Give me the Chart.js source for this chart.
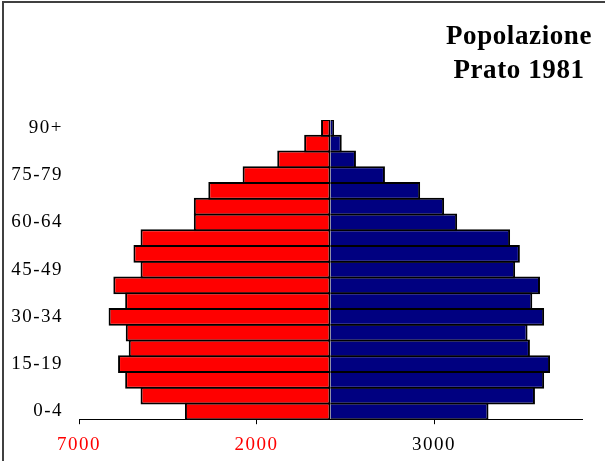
<!DOCTYPE html>
<html>
<head>
<meta charset="utf-8">
<script src="https://cdn.jsdelivr.net/npm/chart.js@4"></script>
<style>
  html, body { margin: 0; padding: 0; background: #fff; }
  #wrap { position: relative; width: 605px; height: 461px; overflow: hidden; }
  #frame { position: absolute; left: 2px; top: 1px; width: 700px; height: 600px;
           border-left: 2px solid #404040; border-top: 2px solid #404040; pointer-events: none; }
  #titolo { position: absolute; left: 439px; top: 18px; width: 160px; text-align: center;
            font: bold 27px "Liberation Serif", serif; line-height: 34px; letter-spacing: 0.6px; color: #000; }
</style>
</head>
<body>
<div id="wrap">
  <canvas id="piramide"></canvas>
  <div id="frame"></div>
  <div id="titolo">Popolazione<br>Prato 1981</div>
</div>
<script>
// classi di età, dal basso verso l'alto
const classiEta = ['0-4', '5-9', '10-14', '15-19', '20-24', '25-29', '30-34', '35-39', '40-44',
                   '45-49', '50-54', '55-59', '60-64', '65-69', '70-74', '75-79', '80-84', '85-89', '90+'];
// valori (lato sinistro, rosso)
const maschi = [2460, 3210, 3470, 3590, 3410, 3460, 3750, 3470, 3670,
                3210, 3330, 3210, 2310, 2310, 2065, 1485, 900, 445, 160];
// lato destro, blu
const femmine = [2670, 3455, 3610, 3710, 3370, 3330, 3610, 3410, 3540,
                 3120, 3200, 3035, 2140, 1920, 1515, 920, 430, 190, 60];
// asse orizzontale: posizioni e etichette come nell'originale
const tickValori = [-4250, -1250, 1750];
const tickEtichette = ['7000', '2000', '3000'];
const tickColori = ['#ff0000', '#ff0000', '#000000'];

// spaziatura delle lettere come nel grafico originale
const spaziatura = {
    id: 'spaziatura',
    beforeDraw(chart) { chart.ctx.letterSpacing = '1.5px'; }
};

const ctx = document.getElementById('piramide').getContext('2d');
const grafico = new Chart(ctx, {
    type: 'bar',
    data: {
        labels: classiEta,
        datasets: [{
            label: 'Maschi',
            data: maschi.map(v => -v),
            backgroundColor: '#ff0000',
            borderColor: '#000000',
            borderWidth: 2,
            borderSkipped: false,
            barPercentage: 1.13,
            categoryPercentage: 1
        }, {
            label: 'Femmine',
            data: femmine,
            backgroundColor: '#000080',
            borderColor: '#000000',
            borderWidth: 2,
            borderSkipped: 'left',
            barPercentage: 1.13,
            categoryPercentage: 1
        }]
    },
    options: {
        indexAxis: 'y',
        responsive: true,
        maintainAspectRatio: false,
        animation: false,
        layout: { padding: { top: 120, right: 23, bottom: -4, left: 0 } },
        plugins: {
            legend: { display: false },
            title: { display: false },
            tooltip: { enabled: false }
        },
        scales: {
            x: {
                stacked: true,
                min: -4250,
                max: 4250,
                afterBuildTicks: scale => { scale.ticks = tickValori.map(v => ({ value: v })); },
                ticks: {
                    autoSkip: false,
                    maxRotation: 0,
                    padding: 9,
                    color: c => tickColori[c.index],
                    font: { family: 'Liberation Serif', size: 19 },
                    callback: (v, i) => tickEtichette[i]
                },
                grid: { display: true, drawOnChartArea: false, drawTicks: true, tickLength: 5, color: '#000' },
                border: { display: true, color: '#000', width: 1 }
            },
            y: {
                stacked: true,
                reverse: true,
                afterFit: scale => { scale.width = 79; },
                ticks: {
                    autoSkip: false,
                    padding: 16,
                    color: '#000',
                    font: { family: 'Liberation Serif', size: 19 },
                    callback: function(v, i) { return i % 3 === 0 ? this.getLabelForValue(v) : ''; }
                },
                grid: { display: false, drawTicks: false },
                border: { display: false }
            }
        }
    },
    plugins: [spaziatura]
});
</script>
</body>
</html>
